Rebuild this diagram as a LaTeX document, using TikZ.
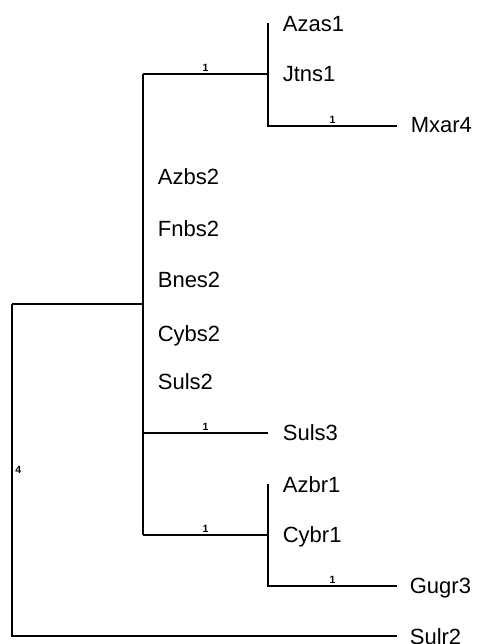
\documentclass[tikz,border=0pt]{standalone}
\usepackage{fontspec}
\setmainfont{Liberation Sans}
\begin{document}
\begin{tikzpicture}[x=1pt,y=-1pt,line width=1.7pt,line join=miter,
  leaf/.style={anchor=base west,inner sep=0pt,font=\fontsize{22}{24}\selectfont},
  blen/.style={above,inner sep=1.5pt,font=\fontsize{10.5}{12}\selectfont\bfseries},
  rootlen/.style={right,inner sep=2.5pt,font=\fontsize{10.5}{12}\selectfont\bfseries}]
\useasboundingbox (0,0) rectangle (476,644);
% internal coordinates
\coordinate (root) at (12,304);
\coordinate (c1) at (143,304);
\coordinate (c1top) at (143,74);
\coordinate (c1bot) at (143,535);
\coordinate (cA) at (268,74);
\coordinate (cAtop) at (268,23);
\coordinate (cAbot) at (268,126);
\coordinate (tMx) at (397,126);
\coordinate (c3) at (143,433);
\coordinate (tS3) at (268,433);
\coordinate (cB) at (268,535);
\coordinate (cBtop) at (268,484);
\coordinate (cBbot) at (268,586);
\coordinate (tGu) at (397,586);
\coordinate (rbot) at (12,636);
\coordinate (tSu) at (397,636);
% branches
\draw (root) -- (c1);
\draw (c1top) -- (c1bot);
\draw (c1top) -- node[blen]{1} (cA);
\draw (cAtop) -- (cAbot) -- node[blen]{1} (tMx);
\draw (c3) -- node[blen]{1} (tS3);
\draw (c1bot) -- node[blen]{1} (cB);
\draw (cBtop) -- (cBbot) -- node[blen]{1} (tGu);
\draw (root) -- node[rootlen]{4} (rbot) -- (tSu);
% leaves
\node[leaf] (azas1) at (282,32) {Azas1};
\node[leaf] (jtns1) at (282,82) {Jtns1};
\node[leaf] (mxar4) at (410,133) {Mxar4};
\node[leaf] (azbs2) at (157,185) {Azbs2};
\node[leaf] (fnbs2) at (157,236) {Fnbs2};
\node[leaf] (bnes2) at (157,287) {Bnes2};
\node[leaf] (cybs2) at (157,341) {Cybs2};
\node[leaf] (suls2) at (157,389) {Suls2};
\node[leaf] (suls3) at (282,440) {Suls3};
\node[leaf] (azbr1) at (282,492) {Azbr1};
\node[leaf] (cybr1) at (282,542) {Cybr1};
\node[leaf] (gugr3) at (409,593) {Gugr3};
\node[leaf] (sulr2) at (409,644) {Sulr2};
\end{tikzpicture}
\end{document}
